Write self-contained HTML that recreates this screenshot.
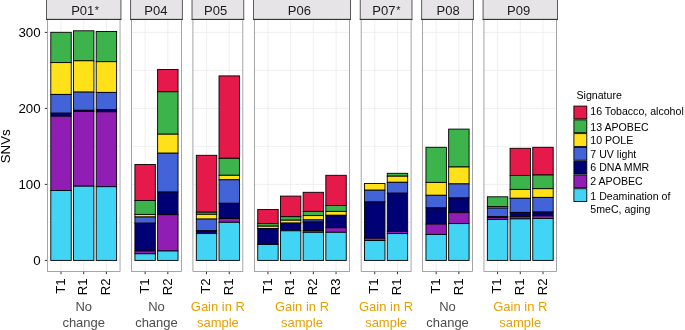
<!DOCTYPE html><html><head><meta charset="utf-8"><style>html,body{margin:0;padding:0;background:#fff;width:685px;height:330px;overflow:hidden}svg{display:block;will-change:transform}text{font-family:"Liberation Sans",sans-serif}</style></head><body>
<svg width="685" height="330" viewBox="0 0 685 330">
<text transform="translate(10.2,146.3) rotate(-90)" text-anchor="middle" font-size="13.3" fill="#000">SNVs</text>
<text x="40.6" y="265.15" text-anchor="end" font-size="13.3" fill="#000">0</text>
<line x1="44.8" x2="47.4" y1="260.40" y2="260.40" stroke="#333" stroke-width="1"/>
<text x="40.6" y="189.15" text-anchor="end" font-size="13.3" fill="#000">100</text>
<line x1="44.8" x2="47.4" y1="184.40" y2="184.40" stroke="#333" stroke-width="1"/>
<text x="40.6" y="113.15" text-anchor="end" font-size="13.3" fill="#000">200</text>
<line x1="44.8" x2="47.4" y1="108.40" y2="108.40" stroke="#333" stroke-width="1"/>
<text x="40.6" y="37.15" text-anchor="end" font-size="13.3" fill="#000">300</text>
<line x1="44.8" x2="47.4" y1="32.40" y2="32.40" stroke="#333" stroke-width="1"/>
<rect x="47.40" y="19.6" width="72.64" height="252.00" fill="#fff"/>
<line x1="47.40" x2="120.04" y1="222.40" y2="222.40" stroke="#ebebeb" stroke-width="0.7"/>
<line x1="47.40" x2="120.04" y1="146.40" y2="146.40" stroke="#ebebeb" stroke-width="0.7"/>
<line x1="47.40" x2="120.04" y1="70.40" y2="70.40" stroke="#ebebeb" stroke-width="0.7"/>
<line x1="47.40" x2="120.04" y1="260.40" y2="260.40" stroke="#ebebeb" stroke-width="0.8"/>
<line x1="47.40" x2="120.04" y1="184.40" y2="184.40" stroke="#ebebeb" stroke-width="0.8"/>
<line x1="47.40" x2="120.04" y1="108.40" y2="108.40" stroke="#ebebeb" stroke-width="0.8"/>
<line x1="47.40" x2="120.04" y1="32.40" y2="32.40" stroke="#ebebeb" stroke-width="0.8"/>
<line x1="61.02" x2="61.02" y1="19.6" y2="271.6" stroke="#ebebeb" stroke-width="0.8"/>
<line x1="83.72" x2="83.72" y1="19.6" y2="271.6" stroke="#ebebeb" stroke-width="0.8"/>
<line x1="106.42" x2="106.42" y1="19.6" y2="271.6" stroke="#ebebeb" stroke-width="0.8"/>
<rect x="50.80" y="32.30" width="20.43" height="30.30" fill="#3cb44b" stroke="#000" stroke-width="0.9"/>
<rect x="50.80" y="62.60" width="20.43" height="31.80" fill="#ffe119" stroke="#000" stroke-width="0.9"/>
<rect x="50.80" y="94.40" width="20.43" height="18.80" fill="#4363d8" stroke="#000" stroke-width="0.9"/>
<rect x="50.80" y="113.20" width="20.43" height="3.00" fill="#000075" stroke="#000" stroke-width="0.9"/>
<rect x="50.80" y="116.20" width="20.43" height="74.30" fill="#911eb4" stroke="#000" stroke-width="0.9"/>
<rect x="50.80" y="190.50" width="20.43" height="69.90" fill="#42d4f4" stroke="#000" stroke-width="0.9"/>
<line x1="61.02" x2="61.02" y1="271.6" y2="274.20000000000005" stroke="#333" stroke-width="1"/>
<text transform="translate(64.72,278.4) rotate(-90)" text-anchor="end" font-size="13.2" fill="#000">T1</text>
<rect x="73.50" y="30.80" width="20.43" height="30.00" fill="#3cb44b" stroke="#000" stroke-width="0.9"/>
<rect x="73.50" y="60.80" width="20.43" height="31.30" fill="#ffe119" stroke="#000" stroke-width="0.9"/>
<rect x="73.50" y="92.10" width="20.43" height="18.20" fill="#4363d8" stroke="#000" stroke-width="0.9"/>
<rect x="73.50" y="110.30" width="20.43" height="1.10" fill="#000075" stroke="#000" stroke-width="0.9"/>
<rect x="73.50" y="111.40" width="20.43" height="74.80" fill="#911eb4" stroke="#000" stroke-width="0.9"/>
<rect x="73.50" y="186.20" width="20.43" height="74.20" fill="#42d4f4" stroke="#000" stroke-width="0.9"/>
<line x1="83.72" x2="83.72" y1="271.6" y2="274.20000000000005" stroke="#333" stroke-width="1"/>
<text transform="translate(87.42,278.4) rotate(-90)" text-anchor="end" font-size="13.2" fill="#000">R1</text>
<rect x="96.20" y="31.50" width="20.43" height="30.20" fill="#3cb44b" stroke="#000" stroke-width="0.9"/>
<rect x="96.20" y="61.70" width="20.43" height="30.70" fill="#ffe119" stroke="#000" stroke-width="0.9"/>
<rect x="96.20" y="92.40" width="20.43" height="17.40" fill="#4363d8" stroke="#000" stroke-width="0.9"/>
<rect x="96.20" y="109.80" width="20.43" height="2.00" fill="#000075" stroke="#000" stroke-width="0.9"/>
<rect x="96.20" y="111.80" width="20.43" height="74.90" fill="#911eb4" stroke="#000" stroke-width="0.9"/>
<rect x="96.20" y="186.70" width="20.43" height="73.70" fill="#42d4f4" stroke="#000" stroke-width="0.9"/>
<line x1="106.42" x2="106.42" y1="271.6" y2="274.20000000000005" stroke="#333" stroke-width="1"/>
<text transform="translate(110.12,278.4) rotate(-90)" text-anchor="end" font-size="13.2" fill="#000">R2</text>
<rect x="47.40" y="19.6" width="72.64" height="252.00" fill="none" stroke="#808080" stroke-width="0.7"/>
<rect x="46.50" y="-2" width="74.44" height="21.40" fill="#e6e4e6" stroke="#4a4a4a" stroke-width="0.9"/>
<line x1="46.05" x2="121.39" y1="19.4" y2="19.4" stroke="#333" stroke-width="1"/>
<text x="71.2" y="15" font-size="13" fill="#1a1a1a">P01</text>
<text x="96.9" y="13.65" text-anchor="middle" font-size="10.8" fill="#1a1a1a">*</text>
<text x="83.72" y="311.3" text-anchor="middle" font-size="13" fill="#4d4d4d">No</text>
<text x="83.72" y="326.5" text-anchor="middle" font-size="13" fill="#4d4d4d">change</text>
<rect x="131.51" y="19.6" width="49.94" height="252.00" fill="#fff"/>
<line x1="131.51" x2="181.45" y1="222.40" y2="222.40" stroke="#ebebeb" stroke-width="0.7"/>
<line x1="131.51" x2="181.45" y1="146.40" y2="146.40" stroke="#ebebeb" stroke-width="0.7"/>
<line x1="131.51" x2="181.45" y1="70.40" y2="70.40" stroke="#ebebeb" stroke-width="0.7"/>
<line x1="131.51" x2="181.45" y1="260.40" y2="260.40" stroke="#ebebeb" stroke-width="0.8"/>
<line x1="131.51" x2="181.45" y1="184.40" y2="184.40" stroke="#ebebeb" stroke-width="0.8"/>
<line x1="131.51" x2="181.45" y1="108.40" y2="108.40" stroke="#ebebeb" stroke-width="0.8"/>
<line x1="131.51" x2="181.45" y1="32.40" y2="32.40" stroke="#ebebeb" stroke-width="0.8"/>
<line x1="145.13" x2="145.13" y1="19.6" y2="271.6" stroke="#ebebeb" stroke-width="0.8"/>
<line x1="167.83" x2="167.83" y1="19.6" y2="271.6" stroke="#ebebeb" stroke-width="0.8"/>
<rect x="134.91" y="164.50" width="20.43" height="36.00" fill="#e6194b" stroke="#000" stroke-width="0.9"/>
<rect x="134.91" y="200.50" width="20.43" height="13.90" fill="#3cb44b" stroke="#000" stroke-width="0.9"/>
<rect x="134.91" y="214.40" width="20.43" height="2.60" fill="#ffe119" stroke="#000" stroke-width="0.9"/>
<rect x="134.91" y="217.00" width="20.43" height="6.20" fill="#4363d8" stroke="#000" stroke-width="0.9"/>
<rect x="134.91" y="223.20" width="20.43" height="27.80" fill="#000075" stroke="#000" stroke-width="0.9"/>
<rect x="134.91" y="251.00" width="20.43" height="2.80" fill="#911eb4" stroke="#000" stroke-width="0.9"/>
<rect x="134.91" y="253.80" width="20.43" height="6.60" fill="#42d4f4" stroke="#000" stroke-width="0.9"/>
<line x1="145.13" x2="145.13" y1="271.6" y2="274.20000000000005" stroke="#333" stroke-width="1"/>
<text transform="translate(148.83,278.4) rotate(-90)" text-anchor="end" font-size="13.2" fill="#000">T1</text>
<rect x="157.61" y="69.50" width="20.43" height="22.30" fill="#e6194b" stroke="#000" stroke-width="0.9"/>
<rect x="157.61" y="91.80" width="20.43" height="42.40" fill="#3cb44b" stroke="#000" stroke-width="0.9"/>
<rect x="157.61" y="134.20" width="20.43" height="19.00" fill="#ffe119" stroke="#000" stroke-width="0.9"/>
<rect x="157.61" y="153.20" width="20.43" height="38.90" fill="#4363d8" stroke="#000" stroke-width="0.9"/>
<rect x="157.61" y="192.10" width="20.43" height="22.60" fill="#000075" stroke="#000" stroke-width="0.9"/>
<rect x="157.61" y="214.70" width="20.43" height="36.30" fill="#911eb4" stroke="#000" stroke-width="0.9"/>
<rect x="157.61" y="251.00" width="20.43" height="9.40" fill="#42d4f4" stroke="#000" stroke-width="0.9"/>
<line x1="167.83" x2="167.83" y1="271.6" y2="274.20000000000005" stroke="#333" stroke-width="1"/>
<text transform="translate(171.53,278.4) rotate(-90)" text-anchor="end" font-size="13.2" fill="#000">R2</text>
<rect x="131.51" y="19.6" width="49.94" height="252.00" fill="none" stroke="#808080" stroke-width="0.7"/>
<rect x="130.61" y="-2" width="51.74" height="21.40" fill="#e6e4e6" stroke="#4a4a4a" stroke-width="0.9"/>
<line x1="130.16" x2="182.80" y1="19.4" y2="19.4" stroke="#333" stroke-width="1"/>
<text x="155.88" y="15" text-anchor="middle" font-size="13" fill="#1a1a1a">P04</text>
<text x="156.48" y="311.3" text-anchor="middle" font-size="13" fill="#4d4d4d">No</text>
<text x="156.48" y="326.5" text-anchor="middle" font-size="13" fill="#4d4d4d">change</text>
<rect x="192.92" y="19.6" width="49.94" height="252.00" fill="#fff"/>
<line x1="192.92" x2="242.86" y1="222.40" y2="222.40" stroke="#ebebeb" stroke-width="0.7"/>
<line x1="192.92" x2="242.86" y1="146.40" y2="146.40" stroke="#ebebeb" stroke-width="0.7"/>
<line x1="192.92" x2="242.86" y1="70.40" y2="70.40" stroke="#ebebeb" stroke-width="0.7"/>
<line x1="192.92" x2="242.86" y1="260.40" y2="260.40" stroke="#ebebeb" stroke-width="0.8"/>
<line x1="192.92" x2="242.86" y1="184.40" y2="184.40" stroke="#ebebeb" stroke-width="0.8"/>
<line x1="192.92" x2="242.86" y1="108.40" y2="108.40" stroke="#ebebeb" stroke-width="0.8"/>
<line x1="192.92" x2="242.86" y1="32.40" y2="32.40" stroke="#ebebeb" stroke-width="0.8"/>
<line x1="206.54" x2="206.54" y1="19.6" y2="271.6" stroke="#ebebeb" stroke-width="0.8"/>
<line x1="229.24" x2="229.24" y1="19.6" y2="271.6" stroke="#ebebeb" stroke-width="0.8"/>
<rect x="196.32" y="155.30" width="20.43" height="56.90" fill="#e6194b" stroke="#000" stroke-width="0.9"/>
<rect x="196.32" y="212.20" width="20.43" height="2.10" fill="#3cb44b" stroke="#000" stroke-width="0.9"/>
<rect x="196.32" y="214.30" width="20.43" height="4.80" fill="#ffe119" stroke="#000" stroke-width="0.9"/>
<rect x="196.32" y="219.10" width="20.43" height="11.70" fill="#4363d8" stroke="#000" stroke-width="0.9"/>
<rect x="196.32" y="230.80" width="20.43" height="2.80" fill="#000075" stroke="#000" stroke-width="0.9"/>
<rect x="196.32" y="233.60" width="20.43" height="26.80" fill="#42d4f4" stroke="#000" stroke-width="0.9"/>
<line x1="206.54" x2="206.54" y1="271.6" y2="274.20000000000005" stroke="#333" stroke-width="1"/>
<text transform="translate(210.24,278.4) rotate(-90)" text-anchor="end" font-size="13.2" fill="#000">T2</text>
<rect x="219.02" y="75.90" width="20.43" height="82.40" fill="#e6194b" stroke="#000" stroke-width="0.9"/>
<rect x="219.02" y="158.30" width="20.43" height="17.00" fill="#3cb44b" stroke="#000" stroke-width="0.9"/>
<rect x="219.02" y="175.30" width="20.43" height="4.50" fill="#ffe119" stroke="#000" stroke-width="0.9"/>
<rect x="219.02" y="179.80" width="20.43" height="23.50" fill="#4363d8" stroke="#000" stroke-width="0.9"/>
<rect x="219.02" y="203.30" width="20.43" height="15.20" fill="#000075" stroke="#000" stroke-width="0.9"/>
<rect x="219.02" y="218.50" width="20.43" height="3.80" fill="#911eb4" stroke="#000" stroke-width="0.9"/>
<rect x="219.02" y="222.30" width="20.43" height="38.10" fill="#42d4f4" stroke="#000" stroke-width="0.9"/>
<line x1="229.24" x2="229.24" y1="271.6" y2="274.20000000000005" stroke="#333" stroke-width="1"/>
<text transform="translate(232.94,278.4) rotate(-90)" text-anchor="end" font-size="13.2" fill="#000">R1</text>
<rect x="192.92" y="19.6" width="49.94" height="252.00" fill="none" stroke="#808080" stroke-width="0.7"/>
<rect x="192.02" y="-2" width="51.74" height="21.40" fill="#e6e4e6" stroke="#4a4a4a" stroke-width="0.9"/>
<line x1="191.57" x2="244.21" y1="19.4" y2="19.4" stroke="#333" stroke-width="1"/>
<text x="215.59" y="15" text-anchor="middle" font-size="13" fill="#1a1a1a">P05</text>
<text x="217.89" y="311.3" text-anchor="middle" font-size="13" fill="#e69f00">Gain in R</text>
<text x="217.89" y="326.5" text-anchor="middle" font-size="13" fill="#e69f00">sample</text>
<rect x="254.33" y="19.6" width="95.34" height="252.00" fill="#fff"/>
<line x1="254.33" x2="349.67" y1="222.40" y2="222.40" stroke="#ebebeb" stroke-width="0.7"/>
<line x1="254.33" x2="349.67" y1="146.40" y2="146.40" stroke="#ebebeb" stroke-width="0.7"/>
<line x1="254.33" x2="349.67" y1="70.40" y2="70.40" stroke="#ebebeb" stroke-width="0.7"/>
<line x1="254.33" x2="349.67" y1="260.40" y2="260.40" stroke="#ebebeb" stroke-width="0.8"/>
<line x1="254.33" x2="349.67" y1="184.40" y2="184.40" stroke="#ebebeb" stroke-width="0.8"/>
<line x1="254.33" x2="349.67" y1="108.40" y2="108.40" stroke="#ebebeb" stroke-width="0.8"/>
<line x1="254.33" x2="349.67" y1="32.40" y2="32.40" stroke="#ebebeb" stroke-width="0.8"/>
<line x1="267.95" x2="267.95" y1="19.6" y2="271.6" stroke="#ebebeb" stroke-width="0.8"/>
<line x1="290.65" x2="290.65" y1="19.6" y2="271.6" stroke="#ebebeb" stroke-width="0.8"/>
<line x1="313.35" x2="313.35" y1="19.6" y2="271.6" stroke="#ebebeb" stroke-width="0.8"/>
<line x1="336.05" x2="336.05" y1="19.6" y2="271.6" stroke="#ebebeb" stroke-width="0.8"/>
<rect x="257.74" y="209.50" width="20.43" height="14.10" fill="#e6194b" stroke="#000" stroke-width="0.9"/>
<rect x="257.74" y="223.60" width="20.43" height="2.60" fill="#3cb44b" stroke="#000" stroke-width="0.9"/>
<rect x="257.74" y="226.20" width="20.43" height="2.30" fill="#ffe119" stroke="#000" stroke-width="0.9"/>
<rect x="257.74" y="228.50" width="20.43" height="16.00" fill="#000075" stroke="#000" stroke-width="0.9"/>
<rect x="257.74" y="244.50" width="20.43" height="15.90" fill="#42d4f4" stroke="#000" stroke-width="0.9"/>
<line x1="267.95" x2="267.95" y1="271.6" y2="274.20000000000005" stroke="#333" stroke-width="1"/>
<text transform="translate(271.65,278.4) rotate(-90)" text-anchor="end" font-size="13.2" fill="#000">T1</text>
<rect x="280.44" y="196.10" width="20.43" height="20.60" fill="#e6194b" stroke="#000" stroke-width="0.9"/>
<rect x="280.44" y="216.70" width="20.43" height="3.50" fill="#3cb44b" stroke="#000" stroke-width="0.9"/>
<rect x="280.44" y="220.20" width="20.43" height="2.90" fill="#ffe119" stroke="#000" stroke-width="0.9"/>
<rect x="280.44" y="223.10" width="20.43" height="7.70" fill="#000075" stroke="#000" stroke-width="0.9"/>
<rect x="280.44" y="230.80" width="20.43" height="29.60" fill="#42d4f4" stroke="#000" stroke-width="0.9"/>
<line x1="290.65" x2="290.65" y1="271.6" y2="274.20000000000005" stroke="#333" stroke-width="1"/>
<text transform="translate(294.35,278.4) rotate(-90)" text-anchor="end" font-size="13.2" fill="#000">R1</text>
<rect x="303.13" y="192.30" width="20.43" height="19.10" fill="#e6194b" stroke="#000" stroke-width="0.9"/>
<rect x="303.13" y="211.40" width="20.43" height="4.20" fill="#3cb44b" stroke="#000" stroke-width="0.9"/>
<rect x="303.13" y="215.60" width="20.43" height="4.30" fill="#ffe119" stroke="#000" stroke-width="0.9"/>
<rect x="303.13" y="219.90" width="20.43" height="2.10" fill="#4363d8" stroke="#000" stroke-width="0.9"/>
<rect x="303.13" y="222.00" width="20.43" height="8.50" fill="#000075" stroke="#000" stroke-width="0.9"/>
<rect x="303.13" y="230.50" width="20.43" height="1.80" fill="#911eb4" stroke="#000" stroke-width="0.9"/>
<rect x="303.13" y="232.30" width="20.43" height="28.10" fill="#42d4f4" stroke="#000" stroke-width="0.9"/>
<line x1="313.35" x2="313.35" y1="271.6" y2="274.20000000000005" stroke="#333" stroke-width="1"/>
<text transform="translate(317.05,278.4) rotate(-90)" text-anchor="end" font-size="13.2" fill="#000">R2</text>
<rect x="325.83" y="175.30" width="20.43" height="30.20" fill="#e6194b" stroke="#000" stroke-width="0.9"/>
<rect x="325.83" y="205.50" width="20.43" height="5.90" fill="#3cb44b" stroke="#000" stroke-width="0.9"/>
<rect x="325.83" y="211.40" width="20.43" height="3.90" fill="#ffe119" stroke="#000" stroke-width="0.9"/>
<rect x="325.83" y="215.30" width="20.43" height="12.50" fill="#000075" stroke="#000" stroke-width="0.9"/>
<rect x="325.83" y="227.80" width="20.43" height="4.50" fill="#911eb4" stroke="#000" stroke-width="0.9"/>
<rect x="325.83" y="232.30" width="20.43" height="28.10" fill="#42d4f4" stroke="#000" stroke-width="0.9"/>
<line x1="336.05" x2="336.05" y1="271.6" y2="274.20000000000005" stroke="#333" stroke-width="1"/>
<text transform="translate(339.75,278.4) rotate(-90)" text-anchor="end" font-size="13.2" fill="#000">R3</text>
<rect x="254.33" y="19.6" width="95.34" height="252.00" fill="none" stroke="#808080" stroke-width="0.7"/>
<rect x="253.43" y="-2" width="97.14" height="21.40" fill="#e6e4e6" stroke="#4a4a4a" stroke-width="0.9"/>
<line x1="252.98" x2="351.02" y1="19.4" y2="19.4" stroke="#333" stroke-width="1"/>
<text x="299.40" y="15" text-anchor="middle" font-size="13" fill="#1a1a1a">P06</text>
<text x="302.00" y="311.3" text-anchor="middle" font-size="13" fill="#e69f00">Gain in R</text>
<text x="302.00" y="326.5" text-anchor="middle" font-size="13" fill="#e69f00">sample</text>
<rect x="361.14" y="19.6" width="49.94" height="252.00" fill="#fff"/>
<line x1="361.14" x2="411.08" y1="222.40" y2="222.40" stroke="#ebebeb" stroke-width="0.7"/>
<line x1="361.14" x2="411.08" y1="146.40" y2="146.40" stroke="#ebebeb" stroke-width="0.7"/>
<line x1="361.14" x2="411.08" y1="70.40" y2="70.40" stroke="#ebebeb" stroke-width="0.7"/>
<line x1="361.14" x2="411.08" y1="260.40" y2="260.40" stroke="#ebebeb" stroke-width="0.8"/>
<line x1="361.14" x2="411.08" y1="184.40" y2="184.40" stroke="#ebebeb" stroke-width="0.8"/>
<line x1="361.14" x2="411.08" y1="108.40" y2="108.40" stroke="#ebebeb" stroke-width="0.8"/>
<line x1="361.14" x2="411.08" y1="32.40" y2="32.40" stroke="#ebebeb" stroke-width="0.8"/>
<line x1="374.76" x2="374.76" y1="19.6" y2="271.6" stroke="#ebebeb" stroke-width="0.8"/>
<line x1="397.46" x2="397.46" y1="19.6" y2="271.6" stroke="#ebebeb" stroke-width="0.8"/>
<rect x="364.55" y="183.50" width="20.43" height="6.70" fill="#ffe119" stroke="#000" stroke-width="0.9"/>
<rect x="364.55" y="190.20" width="20.43" height="11.80" fill="#4363d8" stroke="#000" stroke-width="0.9"/>
<rect x="364.55" y="202.00" width="20.43" height="36.20" fill="#000075" stroke="#000" stroke-width="0.9"/>
<rect x="364.55" y="238.20" width="20.43" height="2.30" fill="#911eb4" stroke="#000" stroke-width="0.9"/>
<rect x="364.55" y="240.50" width="20.43" height="19.90" fill="#42d4f4" stroke="#000" stroke-width="0.9"/>
<line x1="374.76" x2="374.76" y1="271.6" y2="274.20000000000005" stroke="#333" stroke-width="1"/>
<text transform="translate(378.46,278.4) rotate(-90)" text-anchor="end" font-size="13.2" fill="#000">T1</text>
<rect x="387.25" y="173.30" width="20.43" height="2.90" fill="#3cb44b" stroke="#000" stroke-width="0.9"/>
<rect x="387.25" y="176.20" width="20.43" height="6.10" fill="#ffe119" stroke="#000" stroke-width="0.9"/>
<rect x="387.25" y="182.30" width="20.43" height="10.90" fill="#4363d8" stroke="#000" stroke-width="0.9"/>
<rect x="387.25" y="193.20" width="20.43" height="38.20" fill="#000075" stroke="#000" stroke-width="0.9"/>
<rect x="387.25" y="231.40" width="20.43" height="2.20" fill="#911eb4" stroke="#000" stroke-width="0.9"/>
<rect x="387.25" y="233.60" width="20.43" height="26.80" fill="#42d4f4" stroke="#000" stroke-width="0.9"/>
<line x1="397.46" x2="397.46" y1="271.6" y2="274.20000000000005" stroke="#333" stroke-width="1"/>
<text transform="translate(401.16,278.4) rotate(-90)" text-anchor="end" font-size="13.2" fill="#000">R1</text>
<rect x="361.14" y="19.6" width="49.94" height="252.00" fill="none" stroke="#808080" stroke-width="0.7"/>
<rect x="360.24" y="-2" width="51.74" height="21.40" fill="#e6e4e6" stroke="#4a4a4a" stroke-width="0.9"/>
<line x1="359.79" x2="412.43" y1="19.4" y2="19.4" stroke="#333" stroke-width="1"/>
<text x="372.3" y="15" font-size="13" fill="#1a1a1a">P07</text>
<text x="398.25" y="13.65" text-anchor="middle" font-size="10.8" fill="#1a1a1a">*</text>
<text x="386.11" y="311.3" text-anchor="middle" font-size="13" fill="#e69f00">Gain in R</text>
<text x="386.11" y="326.5" text-anchor="middle" font-size="13" fill="#e69f00">sample</text>
<rect x="422.55" y="19.6" width="49.94" height="252.00" fill="#fff"/>
<line x1="422.55" x2="472.49" y1="222.40" y2="222.40" stroke="#ebebeb" stroke-width="0.7"/>
<line x1="422.55" x2="472.49" y1="146.40" y2="146.40" stroke="#ebebeb" stroke-width="0.7"/>
<line x1="422.55" x2="472.49" y1="70.40" y2="70.40" stroke="#ebebeb" stroke-width="0.7"/>
<line x1="422.55" x2="472.49" y1="260.40" y2="260.40" stroke="#ebebeb" stroke-width="0.8"/>
<line x1="422.55" x2="472.49" y1="184.40" y2="184.40" stroke="#ebebeb" stroke-width="0.8"/>
<line x1="422.55" x2="472.49" y1="108.40" y2="108.40" stroke="#ebebeb" stroke-width="0.8"/>
<line x1="422.55" x2="472.49" y1="32.40" y2="32.40" stroke="#ebebeb" stroke-width="0.8"/>
<line x1="436.17" x2="436.17" y1="19.6" y2="271.6" stroke="#ebebeb" stroke-width="0.8"/>
<line x1="458.87" x2="458.87" y1="19.6" y2="271.6" stroke="#ebebeb" stroke-width="0.8"/>
<rect x="425.96" y="147.30" width="20.43" height="35.10" fill="#3cb44b" stroke="#000" stroke-width="0.9"/>
<rect x="425.96" y="182.40" width="20.43" height="12.90" fill="#ffe119" stroke="#000" stroke-width="0.9"/>
<rect x="425.96" y="195.30" width="20.43" height="12.60" fill="#4363d8" stroke="#000" stroke-width="0.9"/>
<rect x="425.96" y="207.90" width="20.43" height="16.20" fill="#000075" stroke="#000" stroke-width="0.9"/>
<rect x="425.96" y="224.10" width="20.43" height="10.30" fill="#911eb4" stroke="#000" stroke-width="0.9"/>
<rect x="425.96" y="234.40" width="20.43" height="26.00" fill="#42d4f4" stroke="#000" stroke-width="0.9"/>
<line x1="436.17" x2="436.17" y1="271.6" y2="274.20000000000005" stroke="#333" stroke-width="1"/>
<text transform="translate(439.87,278.4) rotate(-90)" text-anchor="end" font-size="13.2" fill="#000">T1</text>
<rect x="448.66" y="129.10" width="20.43" height="37.90" fill="#3cb44b" stroke="#000" stroke-width="0.9"/>
<rect x="448.66" y="167.00" width="20.43" height="16.90" fill="#ffe119" stroke="#000" stroke-width="0.9"/>
<rect x="448.66" y="183.90" width="20.43" height="14.10" fill="#4363d8" stroke="#000" stroke-width="0.9"/>
<rect x="448.66" y="198.00" width="20.43" height="14.70" fill="#000075" stroke="#000" stroke-width="0.9"/>
<rect x="448.66" y="212.70" width="20.43" height="10.90" fill="#911eb4" stroke="#000" stroke-width="0.9"/>
<rect x="448.66" y="223.60" width="20.43" height="36.80" fill="#42d4f4" stroke="#000" stroke-width="0.9"/>
<line x1="458.87" x2="458.87" y1="271.6" y2="274.20000000000005" stroke="#333" stroke-width="1"/>
<text transform="translate(462.57,278.4) rotate(-90)" text-anchor="end" font-size="13.2" fill="#000">R1</text>
<rect x="422.55" y="19.6" width="49.94" height="252.00" fill="none" stroke="#808080" stroke-width="0.7"/>
<rect x="421.65" y="-2" width="51.74" height="21.40" fill="#e6e4e6" stroke="#4a4a4a" stroke-width="0.9"/>
<line x1="421.20" x2="473.84" y1="19.4" y2="19.4" stroke="#333" stroke-width="1"/>
<text x="448.12" y="15" text-anchor="middle" font-size="13" fill="#1a1a1a">P08</text>
<text x="447.52" y="311.3" text-anchor="middle" font-size="13" fill="#4d4d4d">No</text>
<text x="447.52" y="326.5" text-anchor="middle" font-size="13" fill="#4d4d4d">change</text>
<rect x="483.96" y="19.6" width="72.64" height="252.00" fill="#fff"/>
<line x1="483.96" x2="556.60" y1="222.40" y2="222.40" stroke="#ebebeb" stroke-width="0.7"/>
<line x1="483.96" x2="556.60" y1="146.40" y2="146.40" stroke="#ebebeb" stroke-width="0.7"/>
<line x1="483.96" x2="556.60" y1="70.40" y2="70.40" stroke="#ebebeb" stroke-width="0.7"/>
<line x1="483.96" x2="556.60" y1="260.40" y2="260.40" stroke="#ebebeb" stroke-width="0.8"/>
<line x1="483.96" x2="556.60" y1="184.40" y2="184.40" stroke="#ebebeb" stroke-width="0.8"/>
<line x1="483.96" x2="556.60" y1="108.40" y2="108.40" stroke="#ebebeb" stroke-width="0.8"/>
<line x1="483.96" x2="556.60" y1="32.40" y2="32.40" stroke="#ebebeb" stroke-width="0.8"/>
<line x1="497.58" x2="497.58" y1="19.6" y2="271.6" stroke="#ebebeb" stroke-width="0.8"/>
<line x1="520.28" x2="520.28" y1="19.6" y2="271.6" stroke="#ebebeb" stroke-width="0.8"/>
<line x1="542.98" x2="542.98" y1="19.6" y2="271.6" stroke="#ebebeb" stroke-width="0.8"/>
<rect x="487.37" y="196.80" width="20.43" height="9.70" fill="#3cb44b" stroke="#000" stroke-width="0.9"/>
<rect x="487.37" y="206.50" width="20.43" height="1.60" fill="#ffe119" stroke="#000" stroke-width="0.9"/>
<rect x="487.37" y="208.10" width="20.43" height="8.60" fill="#4363d8" stroke="#000" stroke-width="0.9"/>
<rect x="487.37" y="216.70" width="20.43" height="0.80" fill="#000075" stroke="#000" stroke-width="0.9"/>
<rect x="487.37" y="217.50" width="20.43" height="1.90" fill="#911eb4" stroke="#000" stroke-width="0.9"/>
<rect x="487.37" y="219.40" width="20.43" height="41.00" fill="#42d4f4" stroke="#000" stroke-width="0.9"/>
<line x1="497.58" x2="497.58" y1="271.6" y2="274.20000000000005" stroke="#333" stroke-width="1"/>
<text transform="translate(501.28,278.4) rotate(-90)" text-anchor="end" font-size="13.2" fill="#000">T1</text>
<rect x="510.07" y="148.30" width="20.43" height="27.20" fill="#e6194b" stroke="#000" stroke-width="0.9"/>
<rect x="510.07" y="175.50" width="20.43" height="13.90" fill="#3cb44b" stroke="#000" stroke-width="0.9"/>
<rect x="510.07" y="189.40" width="20.43" height="8.90" fill="#ffe119" stroke="#000" stroke-width="0.9"/>
<rect x="510.07" y="198.30" width="20.43" height="14.10" fill="#4363d8" stroke="#000" stroke-width="0.9"/>
<rect x="510.07" y="212.40" width="20.43" height="4.30" fill="#000075" stroke="#000" stroke-width="0.9"/>
<rect x="510.07" y="216.70" width="20.43" height="2.20" fill="#911eb4" stroke="#000" stroke-width="0.9"/>
<rect x="510.07" y="218.90" width="20.43" height="41.50" fill="#42d4f4" stroke="#000" stroke-width="0.9"/>
<line x1="520.28" x2="520.28" y1="271.6" y2="274.20000000000005" stroke="#333" stroke-width="1"/>
<text transform="translate(523.98,278.4) rotate(-90)" text-anchor="end" font-size="13.2" fill="#000">R1</text>
<rect x="532.76" y="147.30" width="20.43" height="27.70" fill="#e6194b" stroke="#000" stroke-width="0.9"/>
<rect x="532.76" y="175.00" width="20.43" height="13.70" fill="#3cb44b" stroke="#000" stroke-width="0.9"/>
<rect x="532.76" y="188.70" width="20.43" height="8.70" fill="#ffe119" stroke="#000" stroke-width="0.9"/>
<rect x="532.76" y="197.40" width="20.43" height="14.70" fill="#4363d8" stroke="#000" stroke-width="0.9"/>
<rect x="532.76" y="212.10" width="20.43" height="3.80" fill="#000075" stroke="#000" stroke-width="0.9"/>
<rect x="532.76" y="215.90" width="20.43" height="2.60" fill="#911eb4" stroke="#000" stroke-width="0.9"/>
<rect x="532.76" y="218.50" width="20.43" height="41.90" fill="#42d4f4" stroke="#000" stroke-width="0.9"/>
<line x1="542.98" x2="542.98" y1="271.6" y2="274.20000000000005" stroke="#333" stroke-width="1"/>
<text transform="translate(546.68,278.4) rotate(-90)" text-anchor="end" font-size="13.2" fill="#000">R2</text>
<rect x="483.96" y="19.6" width="72.64" height="252.00" fill="none" stroke="#808080" stroke-width="0.7"/>
<rect x="483.06" y="-2" width="74.44" height="21.40" fill="#e6e4e6" stroke="#4a4a4a" stroke-width="0.9"/>
<line x1="482.61" x2="557.95" y1="19.4" y2="19.4" stroke="#333" stroke-width="1"/>
<text x="518.68" y="15" text-anchor="middle" font-size="13" fill="#1a1a1a">P09</text>
<text x="520.28" y="311.3" text-anchor="middle" font-size="13" fill="#e69f00">Gain in R</text>
<text x="520.28" y="326.5" text-anchor="middle" font-size="13" fill="#e69f00">sample</text>
<text x="576.5" y="98.9" font-size="10.6" fill="#000">Signature</text>
<rect x="573.9" y="106.10" width="12.9" height="12.8" fill="#e6194b" stroke="#000" stroke-width="0.9"/>
<text x="590.3" y="115.40" font-size="10.6" fill="#000">16 Tobacco, alcohol</text>
<rect x="573.9" y="119.87" width="12.9" height="12.8" fill="#3cb44b" stroke="#000" stroke-width="0.9"/>
<text x="590.3" y="130.50" font-size="10.6" fill="#000">13 APOBEC</text>
<rect x="573.9" y="133.64" width="12.9" height="12.8" fill="#ffe119" stroke="#000" stroke-width="0.9"/>
<text x="590.3" y="144.10" font-size="10.6" fill="#000">10 POLE</text>
<rect x="573.9" y="147.41" width="12.9" height="12.8" fill="#4363d8" stroke="#000" stroke-width="0.9"/>
<text x="590.3" y="157.60" font-size="10.6" fill="#000">7 UV light</text>
<rect x="573.9" y="161.18" width="12.9" height="12.8" fill="#000075" stroke="#000" stroke-width="0.9"/>
<text x="590.3" y="171.10" font-size="10.6" fill="#000">6 DNA MMR</text>
<rect x="573.9" y="174.95" width="12.9" height="12.8" fill="#911eb4" stroke="#000" stroke-width="0.9"/>
<text x="590.3" y="185.20" font-size="10.6" fill="#000">2 APOBEC</text>
<rect x="573.9" y="188.72" width="12.9" height="12.8" fill="#42d4f4" stroke="#000" stroke-width="0.9"/>
<text x="590.3" y="199.70" font-size="10.6" fill="#000">1 Deamination of</text>
<text x="590.3" y="212.7" font-size="10.6" fill="#000">5meC, aging</text>
</svg></body></html>
